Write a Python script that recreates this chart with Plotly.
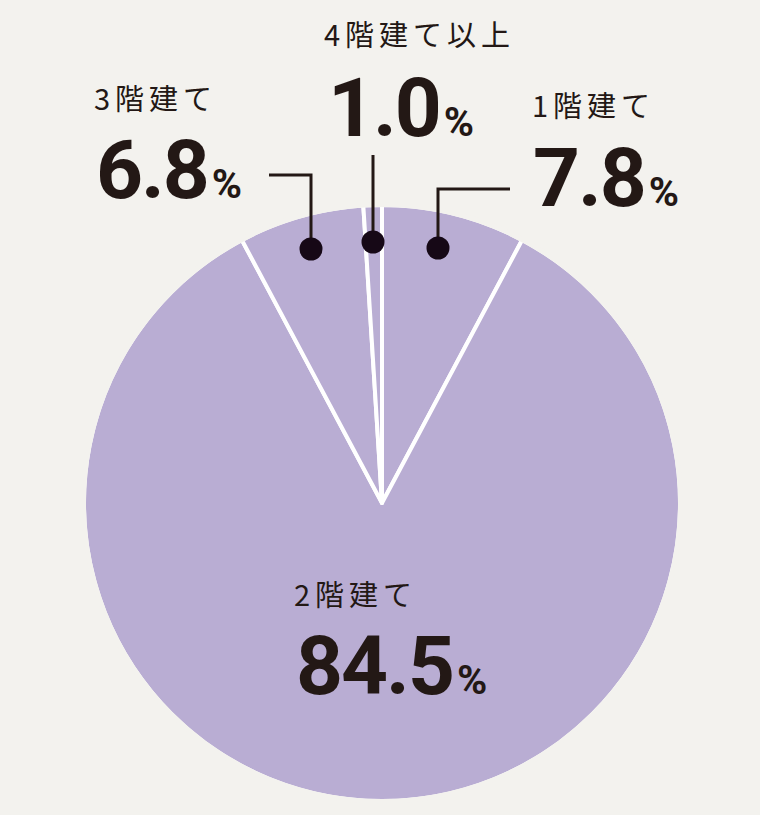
import plotly.graph_objects as go

# 住宅の階数別割合
labels = ["1階建て", "2階建て", "3階建て", "4階建て以上"]
values = [7.8, 84.5, 6.8, 1.0]

BG = "#f3f2ee"
PIE = "#b9add3"
INK = "#231815"
DOT = "#160816"

W, H = 760, 815
cx, cy, r = 382, 503, 296

# ラベルの位置 (px): 項目名, 数値, 引き出し線
label_pos = {
    "1階建て": dict(lx=530, ly=104, nx=531, ny=178,
                  line=[(510, 189), (438, 189), (438, 248)]),
    "2階建て": dict(lx=292, ly=593, nx=294, ny=666, line=None),
    "3階建て": dict(lx=92, ly=97, nx=94, ny=170,
                  line=[(269, 175), (311, 175), (311, 249)]),
    "4階建て以上": dict(lx=322, ly=33, nx=326, ny=108,
                    line=[(373, 155), (373, 242)]),
}

fig = go.Figure()

# 外周の白線を隠すため少し大きめに描く
rp = r + 2
fig.add_trace(go.Pie(
    labels=labels,
    values=values,
    sort=False,
    direction="clockwise",
    rotation=0,
    marker=dict(colors=[PIE] * len(labels), line=dict(color="white", width=4)),
    textinfo="none",
    hoverinfo="label+percent",
    showlegend=False,
    domain=dict(x=[(cx - rp) / W, (cx + rp) / W],
                y=[(H - cy - rp) / H, (H - cy + rp) / H]),
))

shapes = [dict(type="circle", xref="x", yref="y", layer="above",
               x0=cx - rp - 0.5, x1=cx + rp + 0.5, y0=cy - rp - 0.5, y1=cy + rp + 0.5,
               line=dict(color=BG, width=5), fillcolor="rgba(0,0,0,0)")]

for name, val in zip(labels, values):
    p = label_pos[name]
    if p["line"]:
        path = "M " + " L ".join(f"{x},{y}" for x, y in p["line"])
        shapes.append(dict(type="path", path=path, xref="x", yref="y",
                           layer="above", line=dict(color=INK, width=3)))
        dx, dy = p["line"][-1]
        shapes.append(dict(type="circle", xref="x", yref="y", layer="above",
                           x0=dx - 11.5, x1=dx + 11.5, y0=dy - 11.5, y1=dy + 11.5,
                           fillcolor=DOT, line=dict(width=0)))
    fig.add_annotation(
        x=p["lx"], y=p["ly"], xref="x", yref="y",
        xanchor="left", yanchor="middle", showarrow=False,
        text=f'<span style="letter-spacing:5px">{name}</span>',
        font=dict(family="Noto Sans CJK JP", size=29, color=INK),
    )
    fig.add_annotation(
        x=p["nx"], y=p["ny"], xref="x", yref="y",
        xanchor="left", yanchor="middle", showarrow=False,
        text=(f'<span style="letter-spacing:-2px">{val:.1f}</span>'
              f'<span style="font-size:16px"> </span>'
              f'<span style="font-size:41px">%</span>'),
        font=dict(family="Roboto", size=82, color=INK, weight=700),
    )

fig.update_layout(
    width=W, height=H,
    margin=dict(l=0, r=0, t=0, b=0),
    paper_bgcolor=BG, plot_bgcolor="rgba(0,0,0,0)",
    xaxis=dict(range=[0, W], visible=False, domain=[0, 1], fixedrange=True),
    yaxis=dict(range=[H, 0], visible=False, domain=[0, 1], fixedrange=True),
    shapes=shapes,
)

fig.write_html("out.html", config={"displayModeBar": False},
               post_script="document.body.style.margin='0';")
